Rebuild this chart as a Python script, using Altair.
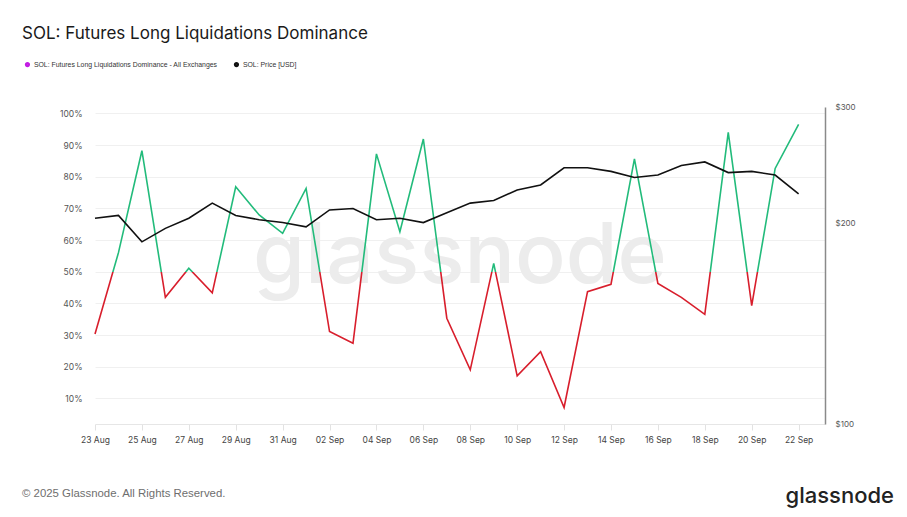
import altair as alt
import pandas as pd

# ---- data ----
dates = [f"2025-08-{d:02d}" for d in range(23, 32)] + [f"2025-09-{d:02d}" for d in range(1, 23)]
dominance = [0.303, 0.56, 0.882, 0.419, 0.511, 0.433, 0.768, 0.679, 0.621, 0.763,
             0.311, 0.274, 0.872, 0.626, 0.919, 0.353, 0.190, 0.526, 0.171, 0.247,
             0.071, 0.437, 0.460, 0.856, 0.463, 0.419, 0.365, 0.940, 0.393, 0.826, 0.965]
price = [204, 206, 188, 197, 204, 215, 206, 203, 201, 198,
         210, 211, 203, 204, 201, 208, 215, 217, 225, 229,
         243, 243, 240, 235, 237, 245, 248, 239, 240, 237, 222]
series_names = ["SOL: Futures Long Liquidations Dominance - All Exchanges", "SOL: Price [USD]"]
series_colors = ["#c21be3", "#111111"]
pct_ticks = [0.1, 0.2, 0.3, 0.4, 0.5, 0.6, 0.7, 0.8, 0.9, 1.0]
price_ticks = [100, 200, 300]
x_tick_dates = dates[::2]
x_domain = ["2025-08-23T00:00:00", "2025-09-23T03:00:00"]
title_text = "SOL: Futures Long Liquidations Dominance"
footer_text = "\u00a9 2025 Glassnode. All Rights Reserved."
brand_text = "glassnode"

GREEN = "#22bb7b"
RED = "#d81e2c"


def ms(s):
    return int(pd.Timestamp(s, tz="UTC").value // 10**6)


dom_df = pd.DataFrame({"date": dates, "dominance": dominance})
price_df = pd.DataFrame({"date": dates, "price": price, "series": series_names[1]})

# gradient split at 50% (offset within the line's vertical bounding box)
vmax, vmin = max(dominance), min(dominance)
t = (vmax - 0.5) / (vmax - vmin)
grad = alt.LinearGradient(
    gradient="linear", x1=0, x2=0, y1=0, y2=1,
    stops=[alt.GradientStop(color=GREEN, offset=0),
           alt.GradientStop(color=GREEN, offset=t),
           alt.GradientStop(color=RED, offset=t),
           alt.GradientStop(color=RED, offset=1)],
)

x_scale = alt.Scale(type="utc", domain=[ms(d) for d in x_domain])

W, H = 730, 317
PL, PT = 95, 107

x_axis = alt.Axis(values=[ms(d) for d in x_tick_dates], format="%d %b",
                  title=None, grid=False, orient="bottom",
                  labelFont="Inter", labelFontSize=8.5, labelColor="#444",
                  tickColor="#e2e2e2", tickSize=6, domainColor="#e6e6e6",
                  labelPadding=5, labelFlush=False)

dom_line = alt.Chart(dom_df).mark_line(strokeWidth=1.6, color=grad).encode(
    x=alt.X("date:T", scale=x_scale, axis=x_axis),
    y=alt.Y("dominance:Q", scale=alt.Scale(domain=[0.019, 1.02], nice=False, zero=False),
            axis=alt.Axis(orient="left", values=pct_ticks, format=".0%", title=None,
                          labelFont="Inter", labelFontSize=8.5, labelColor="#555",
                          labelPadding=13, ticks=False, domain=False,
                          gridColor="#f0f0f0", labelFlush=False)),
)

price_line = alt.Chart(price_df).mark_line(strokeWidth=1.6).encode(
    x=alt.X("date:T", scale=x_scale, axis=x_axis),
    y=alt.Y("price:Q", scale=alt.Scale(type="log", domain=[100, 300], nice=False),
            axis=alt.Axis(orient="right", values=price_ticks, format="$.0f", title=None,
                          labelFont="Inter", labelFontSize=8, labelColor="#555",
                          labelPadding=10, ticks=False, domain=True, domainColor="#8a8a8a",
                          domainWidth=1.5, grid=False, labelOverlap=False, labelFlush=False)),
    color=alt.Color("series:N", scale=alt.Scale(domain=series_names, range=series_colors),
                    legend=alt.Legend(orient="none", legendX=-71, legendY=-46, direction="horizontal",
                                      title=None, symbolType="circle", symbolSize=8,
                                      symbolStrokeWidth=2.4, labelFont="Liberation Sans",
                                      labelFontSize=6.9, labelColor="#333", labelOffset=3,
                                      columnPadding=12, labelLimit=400)),
)


def text_layer(txt, x, y, **kw):
    return alt.Chart(pd.DataFrame({"t": [txt]})).mark_text(**kw).encode(
        text="t:N", x=alt.value(x), y=alt.value(y))


watermark = text_layer(brand_text, 365, 176, font="Inter", fontSize=84, color="#ececec",
                       align="center", baseline="alphabetic", fontWeight=500)
title = text_layer(title_text, 22 - PL, 34 - PT, font="Inter", fontSize=17, color="#1a1a1a",
                   align="left", baseline="middle")
footer = text_layer(footer_text, 22 - PL, 494 - PT, font="Liberation Sans", fontSize=11.4,
                    color="#6e6e6e", align="left", baseline="middle")
brand = text_layer(brand_text, 894 - PL, 503 - PT, font="Inter", fontSize=22, color="#222",
                   align="right", baseline="alphabetic", fontWeight=500)

chart = alt.layer(watermark, dom_line, price_line, title, footer, brand).resolve_scale(
    y="independent"
).properties(
    width=W, height=H,
    background="white",
    autosize=alt.AutoSizeParams(type="none"),
    padding={"left": PL, "top": PT, "right": 907 - PL - W, "bottom": 517 - PT - H},
).configure_view(stroke=None)

chart.save("out.html", embed_options={"renderer": "svg", "actions": False})
